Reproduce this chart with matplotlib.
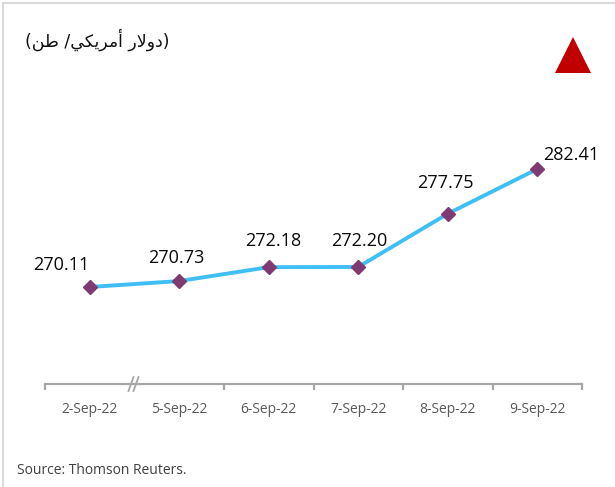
import matplotlib
matplotlib.use("Agg")
import matplotlib.pyplot as plt
from matplotlib.lines import Line2D
from matplotlib.patches import Polygon

# ---- data ----
dates = ["2-Sep-22", "5-Sep-22", "6-Sep-22", "7-Sep-22", "8-Sep-22", "9-Sep-22"]
prices = [270.11, 270.73, 272.18, 272.20, 277.75, 282.41]
value_labels = ["270.11", "270.73", "272.18", "272.20", "277.75", "282.41"]
# label offsets (pixels) relative to each point
label_dx = [-28, -3, 4, 1, -2, 34]
label_dy = [22, 23, 26, 26, 31, 14]

# Arabic unit title "(دولار أمريكي/ طن)" written in visual order with
# presentation forms (matplotlib does no Arabic shaping itself)
unit_title = "(" + "\uFEE6\uFEC3" + " /" + "\uFEF2\uFEDC\uFEF3\uFEAE\uFEE3\uFE83" + " " + "\uFEAD\uFEFB\uFEED\uFEA9" + ")"
source_text = "Source: Thomson Reuters."

W, H, DPI = 615, 487, 100
fig = plt.figure(figsize=(W / DPI, H / DPI), dpi=DPI)
fig.patch.set_facecolor("white")

ax_left, ax_right = 45, 582
ax_bottom_px, ax_top_px = 384, 77
ax = fig.add_axes([ax_left / W, (H - ax_bottom_px) / H,
                   (ax_right - ax_left) / W, (ax_bottom_px - ax_top_px) / H])

x = list(range(len(dates)))
ax.plot(x, prices, color="#40BFF5", lw=2.8, zorder=2, solid_capstyle="round")
ax.plot(x, prices, ls="none", marker="D", ms=7.5, color="#7F3A72",
        markeredgecolor="#7F3A72", zorder=3)

ax.set_xlim(-0.5, len(dates) - 0.5)
ax.set_ylim(260, 292)

for xi, yi, lab, dx, dy in zip(x, prices, value_labels, label_dx, label_dy):
    ax.annotate(lab, (xi, yi), xytext=(dx, dy), textcoords="offset pixels",
                ha="center", va="center", fontsize=13, family="Open Sans",
                color="#0A0A0A")

# axes styling
for s in ["top", "right", "left"]:
    ax.spines[s].set_visible(False)
ax.spines["bottom"].set_color("#A6A6A6")
ax.spines["bottom"].set_linewidth(1.6)
ax.set_yticks([])
ax.set_xticks([-0.5, 1.5, 2.5, 3.5, 4.5, 5.5])
ax.set_xticklabels([])
ax.tick_params(axis="x", which="major", direction="out", length=4,
               width=1.6, color="#A6A6A6")
ax.set_xticks(x, minor=True)
ax.set_xticklabels(dates, minor=True, fontsize=10, family="Open Sans",
                   color="#595959")
ax.tick_params(axis="x", which="minor", length=0, pad=13)
ax.patch.set_alpha(0)

# axis break mark "//"
fig.canvas.draw()
bx, by = ax.transData.transform((0.5, 260))
for off in (-3, 2):
    fig.add_artist(Line2D([bx + off - 3, bx + off + 2], [by - 7, by + 7],
                          transform=None, color="#A6A6A6", lw=1.3))

# frame lines (top and left)
fig.add_artist(Line2D([3 / W, 1], [1 - 3 / H, 1 - 3 / H], transform=fig.transFigure,
                      color="#D9D9D9", lw=1.5))
fig.add_artist(Line2D([3 / W, 3 / W], [0, 1 - 3 / H], transform=fig.transFigure,
                      color="#D9D9D9", lw=1.5))

# red up triangle
tri = Polygon([[555 / W, 1 - 73 / H], [591 / W, 1 - 73 / H], [573 / W, 1 - 37 / H]],
              closed=True, transform=fig.transFigure, facecolor="#C00000",
              edgecolor="none")
fig.add_artist(tri)

fig.text(25 / W, 1 - 40 / H, unit_title, fontsize=12.5, family="DejaVu Sans",
         color="#111111", ha="left", va="center")
fig.text(17 / W, 1 - 470 / H, source_text, fontsize=10, family="Open Sans",
         color="#404040", ha="left", va="center")

fig.savefig("out.png", dpi=DPI)
